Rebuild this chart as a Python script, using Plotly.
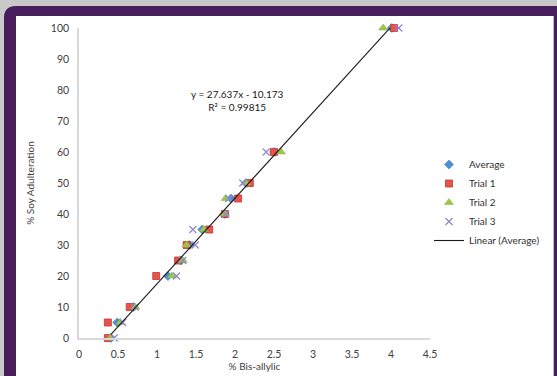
import plotly.graph_objects as go

# ---- data ----
adulteration = [0, 5, 10, 20, 25, 30, 35, 40, 45, 50, 60, 100]
average_x = [0.41, 0.49, 0.70, 1.14, 1.31, 1.42, 1.58, 1.87, 1.95, 2.14, 2.50, 4.01]
trial1_x = [0.37, 0.37, 0.65, 0.99, 1.27, 1.38, 1.67, 1.87, 2.04, 2.19, 2.50, 4.04]
trial2_x = [0.40, 0.53, 0.72, 1.19, 1.33, 1.38, 1.60, 1.87, 1.88, 2.14, 2.59, 3.90]
trial3_x = [0.45, 0.56, 0.72, 1.25, 1.33, 1.49, 1.46, 1.88, 1.92, 2.10, 2.40, 4.10]
fit_slope = 27.637
fit_intercept = -10.173
fit_r2 = 0.99815
x_ticks = [0, 0.5, 1, 1.5, 2, 2.5, 3, 3.5, 4, 4.5]
y_ticks = [0, 10, 20, 30, 40, 50, 60, 70, 80, 90, 100]

W, H = 557, 376
ML, MR, MT, MB = 79, 127, 28, 38
PW, PH = W - ML - MR, H - MT - MB

def px(x):
    return (x - ML) / PW

def py(y):
    return (H - MB - y) / PH

FONT = "Lato, 'Open Sans', sans-serif"
TXT = "#404040"

fig = go.Figure()
fig.add_trace(go.Scatter(x=average_x, y=adulteration, mode="markers", name="Average",
                         cliponaxis=False,
                         marker=dict(symbol="diamond", size=7, color="#4a90d9",
                                     line=dict(color="#3a78c0", width=0.5))))
fig.add_trace(go.Scatter(x=trial1_x, y=adulteration, mode="markers", name="Trial 1",
                         cliponaxis=False,
                         marker=dict(symbol="square", size=7, color="#e8534f",
                                     line=dict(color="#c0392b", width=0.8))))
fig.add_trace(go.Scatter(x=trial2_x, y=adulteration, mode="markers", name="Trial 2",
                         cliponaxis=False,
                         marker=dict(symbol="triangle-up", size=8, color="#9bc84a",
                                     line=dict(color="#86b53a", width=0.5))))
fig.add_trace(go.Scatter(x=trial3_x, y=adulteration, mode="markers", name="Trial 3",
                         cliponaxis=False,
                         marker=dict(symbol="x-thin", size=7, color="#8f84d0",
                                     line=dict(color="#8f84d0", width=1.2))))
lx = [min(average_x), max(average_x)]
ly = [fit_slope * v + fit_intercept for v in lx]
fig.add_trace(go.Scatter(x=lx, y=ly, mode="lines", name="Linear (Average)",
                         cliponaxis=False,
                         line=dict(color="#1a1a1a", width=1.1)))

fig.add_annotation(x=2.03, y=76.5, xref="x", yref="y", showarrow=False,
                   text=f"y = {fit_slope}x - {abs(fit_intercept)}<br>R² = {fit_r2}",
                   font=dict(family=FONT, size=10, color="#202020"), align="center")

# frame: gray background, purple rounded border, white interior
shapes = [
    dict(type="rect", xref="paper", yref="paper", x0=px(0), x1=px(W), y0=py(H), y1=py(0),
         fillcolor="#c9c9c9", line=dict(width=0), layer="below"),
    dict(type="path", xref="paper", yref="paper",
         path=(f"M {px(4)},{py(H+5)} L {px(4)},{py(18)} Q {px(4)},{py(6)} {px(16)},{py(6)} "
               f"L {px(W+5)},{py(6)} L {px(W+5)},{py(H+5)} Z"),
         fillcolor="#471d5b", line=dict(width=0), layer="below"),
    dict(type="rect", xref="paper", yref="paper", x0=px(16), x1=px(554), y0=py(H + 5), y1=py(16),
         fillcolor="#bdbdbd", line=dict(width=0), layer="below"),
    dict(type="rect", xref="paper", yref="paper", x0=px(16), x1=px(553), y0=py(H + 5), y1=py(16),
         fillcolor="#ffffff", line=dict(width=0), layer="below"),
]

fig.update_layout(
    width=W, height=H,
    margin=dict(l=ML, r=MR, t=MT, b=MB, autoexpand=False),
    paper_bgcolor="#ffffff", plot_bgcolor="rgba(0,0,0,0)",
    shapes=shapes,
    font=dict(family=FONT, size=10, color=TXT),
    showlegend=True,
    legend=dict(x=px(429), y=py(150), xanchor="left", yanchor="top",
                bgcolor="rgba(0,0,0,0)", itemwidth=30,
                font=dict(family=FONT, size=10, color="#303030"), tracegroupgap=0),
    xaxis=dict(range=[0, 4.5], tickvals=x_ticks, ticktext=[f"{v:g}" for v in x_ticks],
               showgrid=False, zeroline=False, showline=True, linecolor="#d9d9d9", linewidth=1.5,
               ticks="", ticklabelstandoff=6,
               title=dict(text="% Bis-allylic", standoff=2, font=dict(size=10, color=TXT)),
               tickfont=dict(size=10.5, color=TXT)),
    yaxis=dict(range=[0, 100], tickvals=y_ticks, showgrid=False, zeroline=False,
               showline=True, linecolor="#d9d9d9", linewidth=1.5, ticks="", ticklabelstandoff=6,
               title=dict(text="% Soy Adulteration", standoff=14, font=dict(size=10, color=TXT)),
               tickfont=dict(size=10.5, color=TXT)),
)

fig.write_html("out.html", config={"displayModeBar": False},
               post_script="document.body.style.margin='0';document.body.style.overflow='hidden';")
